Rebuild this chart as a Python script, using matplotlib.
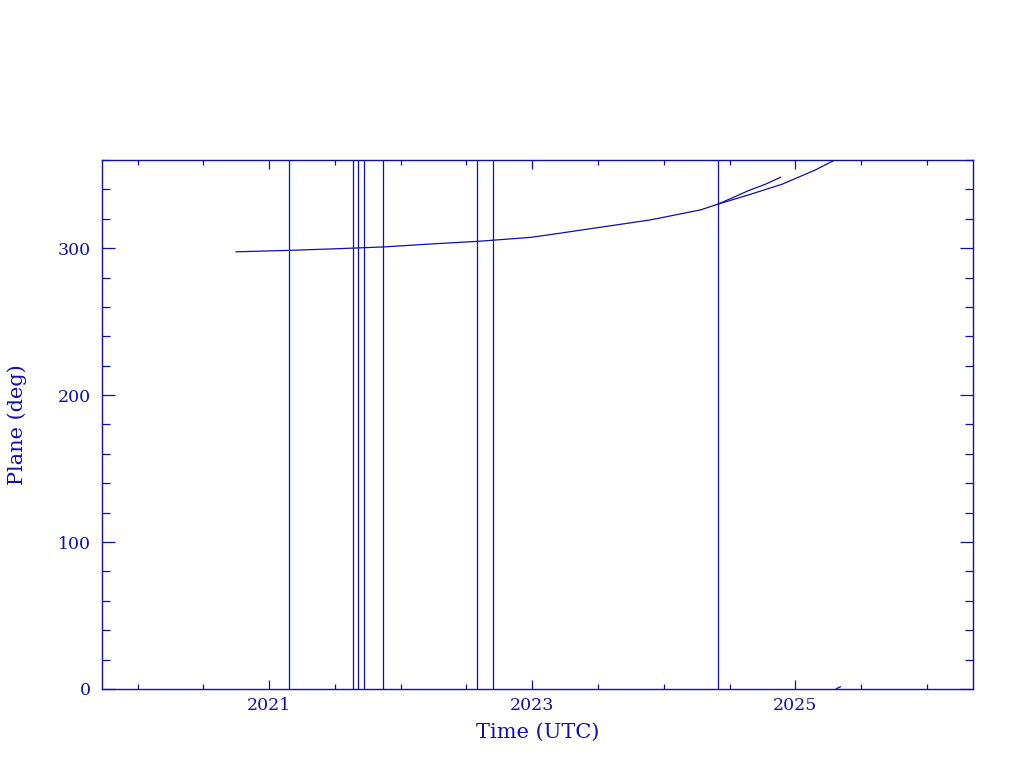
import numpy as np
import matplotlib
matplotlib.use("Agg")
import matplotlib.pyplot as plt
from matplotlib.ticker import MultipleLocator

# plane angle vs time
t_main = np.array([2020.749, 2021.160, 2021.515, 2021.867, 2022.224, 2022.582,
                   2022.985, 2023.137, 2023.517, 2023.897, 2024.278, 2024.414,
                   2024.643, 2024.899, 2025.152, 2025.289, 2025.304])
p_main = np.array([297.5, 298.5, 299.6, 300.8, 302.8, 304.6,
                   307.3, 309.2, 314.2, 319.2, 326.0, 330.0,
                   336.2, 343.5, 353.2, 359.5, 360.0])

t_branch = np.array([2024.414, 2024.643, 2024.772, 2024.886])
p_branch = np.array([330.0, 339.1, 343.5, 348.2])

t_wrap = np.array([2025.312, 2025.342])
p_wrap = np.array([0.2, 1.5])

# event times (full-height vertical lines)
t_events = [2021.152, 2021.639, 2021.677, 2021.722, 2021.867,
            2022.582, 2022.703, 2024.414]

col = '#1010a8'
plt.rcParams['font.family'] = ['DejaVu Serif']

fig = plt.figure(figsize=(10.24, 7.68), dpi=100)
ax = fig.add_axes([0.0996, 0.1029, 0.8506, 0.6888])

ax.plot(t_main, p_main, color=col, lw=0.9)
ax.plot(t_branch, p_branch, color=col, lw=0.9)
ax.plot(t_wrap, p_wrap, color=col, lw=0.9)
for t in t_events:
    ax.axvline(t, color=col, lw=0.9)

ax.set_xlim(2019.73, 2026.35)
ax.set_ylim(0, 360)
ax.xaxis.set_major_locator(MultipleLocator(2, offset=1))
ax.xaxis.set_minor_locator(MultipleLocator(0.5))
ax.yaxis.set_major_locator(MultipleLocator(100))
ax.yaxis.set_minor_locator(MultipleLocator(20))
ax.xaxis.set_major_formatter(plt.FuncFormatter(lambda v, p: f"{int(round(v))}"))

for s in ax.spines.values():
    s.set_color(col)
    s.set_linewidth(1.0)

ax.tick_params(axis='both', which='both', direction='in', colors=col,
               top=True, right=True, labelsize=12.5, width=0.9)
ax.tick_params(axis='x', which='major', length=6.5, pad=6)
ax.tick_params(axis='x', which='minor', length=3.3)
ax.tick_params(axis='y', which='major', length=9.5, pad=8)
ax.tick_params(axis='y', which='minor', length=5.5)

ax.set_xlabel("Time (UTC)", color=col, fontsize=15, labelpad=6)
ax.set_ylabel("Plane (deg)", color=col, fontsize=15, labelpad=22)

fig.savefig("out.png", dpi=100)
